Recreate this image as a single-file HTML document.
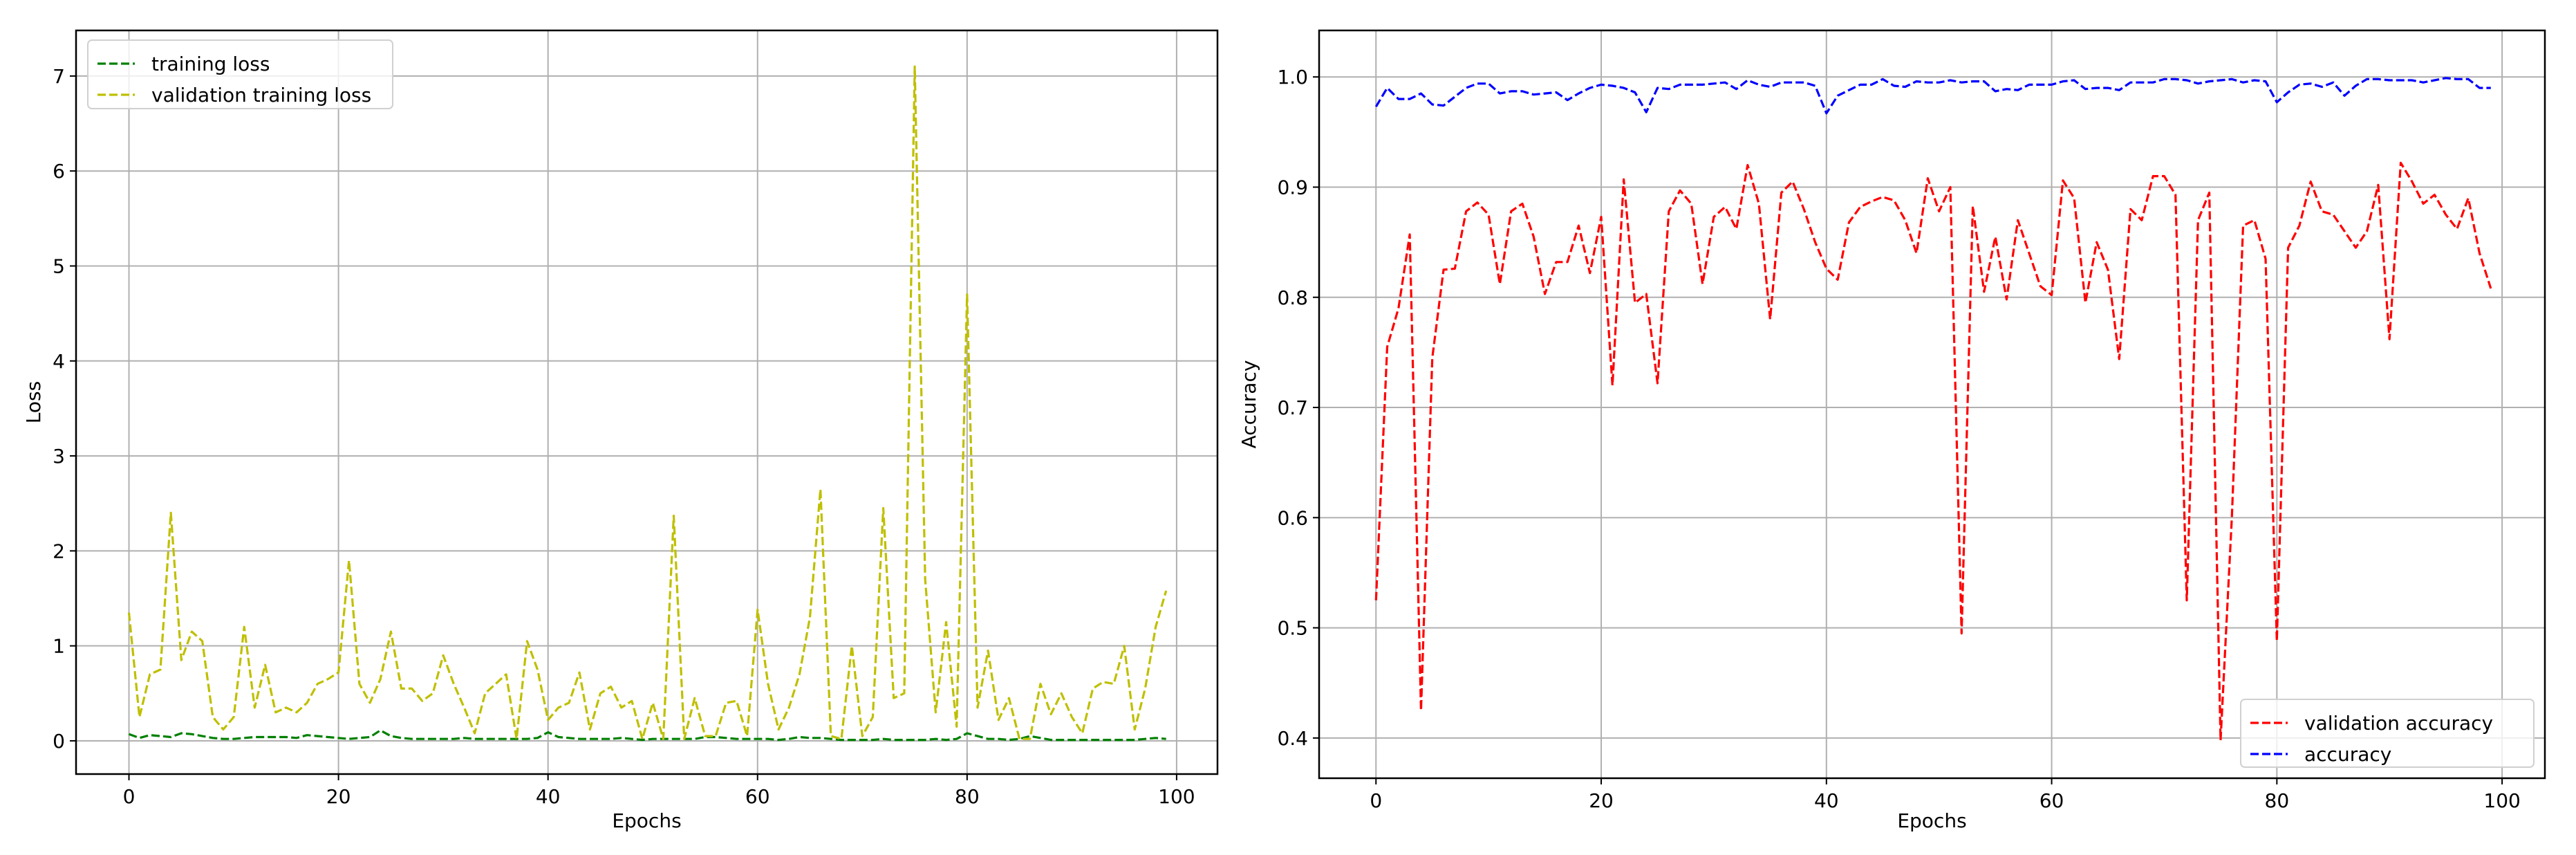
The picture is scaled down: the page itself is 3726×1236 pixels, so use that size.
<!DOCTYPE html>
<html><head><meta charset="utf-8"><style>
html,body{margin:0;padding:0;background:#fff}
svg{display:block}
text{font-family:"DejaVu Sans","Liberation Sans",sans-serif;fill:#000}
</style></head><body>
<svg id="fig" width="3726" height="1236" viewBox="0 0 3726 1236" xmlns="http://www.w3.org/2000/svg"></svg>
<script>
const epochs = Array.from({length:100},(_,i)=>i);
const trainLoss = [0.07,0.03,0.06,0.05,0.04,0.08,0.07,0.05,0.03,0.02,0.02,0.03,0.04,0.04,0.04,0.04,0.03,0.06,0.05,0.04,0.03,0.02,0.03,0.04,0.11,0.05,0.03,0.02,0.02,0.02,0.02,0.02,0.03,0.02,0.02,0.02,0.02,0.02,0.02,0.03,0.09,0.04,0.03,0.02,0.02,0.02,0.02,0.03,0.02,0.01,0.02,0.02,0.02,0.02,0.02,0.04,0.04,0.03,0.02,0.02,0.02,0.02,0.01,0.02,0.04,0.03,0.03,0.02,0.01,0.01,0.01,0.01,0.02,0.01,0.01,0.01,0.01,0.02,0.01,0.02,0.08,0.05,0.02,0.02,0.01,0.02,0.05,0.03,0.01,0.01,0.01,0.01,0.01,0.01,0.01,0.01,0.01,0.02,0.03,0.02];
const valLoss = [1.35,0.25,0.7,0.75,2.4,0.85,1.15,1.05,0.25,0.12,0.25,1.2,0.35,0.8,0.3,0.35,0.3,0.4,0.6,0.65,0.72,1.9,0.6,0.4,0.65,1.15,0.55,0.55,0.42,0.5,0.9,0.6,0.35,0.08,0.5,0.6,0.7,0.02,1.05,0.75,0.22,0.35,0.4,0.72,0.12,0.5,0.57,0.35,0.42,0.02,0.4,0.02,2.37,0.02,0.45,0.05,0.05,0.4,0.42,0.05,1.38,0.6,0.12,0.35,0.7,1.3,2.65,0.05,0.02,1.0,0.05,0.25,2.45,0.45,0.5,7.1,1.7,0.3,1.25,0.15,4.7,0.35,0.95,0.22,0.45,0.02,0.02,0.6,0.28,0.5,0.25,0.08,0.55,0.62,0.6,1.0,0.12,0.55,1.2,1.58];
const valAcc = [0.525,0.755,0.79,0.857,0.425,0.745,0.825,0.826,0.878,0.886,0.875,0.812,0.878,0.885,0.855,0.803,0.832,0.832,0.865,0.822,0.873,0.72,0.907,0.795,0.803,0.722,0.878,0.897,0.885,0.812,0.873,0.882,0.862,0.92,0.885,0.78,0.895,0.905,0.88,0.85,0.826,0.816,0.868,0.882,0.887,0.891,0.888,0.87,0.84,0.908,0.878,0.9,0.495,0.883,0.805,0.855,0.798,0.87,0.84,0.81,0.802,0.906,0.89,0.795,0.85,0.825,0.744,0.88,0.87,0.91,0.91,0.893,0.525,0.87,0.895,0.398,0.6,0.865,0.87,0.835,0.488,0.845,0.865,0.905,0.878,0.875,0.86,0.845,0.86,0.902,0.762,0.922,0.905,0.885,0.893,0.875,0.862,0.89,0.84,0.808];
const trainAcc = [0.973,0.99,0.98,0.98,0.985,0.975,0.974,0.982,0.99,0.994,0.994,0.985,0.987,0.987,0.984,0.985,0.986,0.979,0.985,0.99,0.993,0.992,0.99,0.986,0.968,0.99,0.989,0.993,0.993,0.993,0.994,0.995,0.989,0.997,0.993,0.991,0.995,0.995,0.995,0.992,0.967,0.983,0.988,0.993,0.993,0.998,0.992,0.991,0.996,0.995,0.995,0.997,0.995,0.996,0.996,0.987,0.989,0.988,0.993,0.993,0.993,0.996,0.997,0.989,0.99,0.99,0.988,0.995,0.995,0.995,0.998,0.998,0.997,0.994,0.996,0.997,0.998,0.995,0.997,0.996,0.977,0.986,0.993,0.994,0.991,0.995,0.983,0.992,0.998,0.998,0.997,0.997,0.997,0.995,0.997,0.999,0.998,0.998,0.99,0.99];
const xTicks = [0,20,40,60,80,100];
const lossTicks = [0,1,2,3,4,5,6,7];
const accTicks = [0.4,0.5,0.6,0.7,0.8,0.9,1.0];

const NS="http://www.w3.org/2000/svg";
const svg=document.getElementById('fig');
function mk(tag,attrs,parent){const e=document.createElementNS(NS,tag);for(const k in attrs)e.setAttribute(k,attrs[k]);(parent||svg).appendChild(e);return e;}

function panel(p){
  const g=mk('g',{});
  
  
  const sx=v=>p.x0+(v-p.xmin)/(p.xmax-p.xmin)*(p.x1-p.x0);
  const sy=v=>p.y1-(v-p.ymin)/(p.ymax-p.ymin)*(p.y1-p.y0);
  xTicks.forEach(t=>{
    const x=sx(t);
    const gl=mk('line',{x1:x,x2:x,y1:p.y0,y2:p.y1,stroke:'#b0b0b0','stroke-width':2},g);
    
    
    mk('line',{x1:x,x2:x,y1:p.y1,y2:p.y1+9,stroke:'#000','stroke-width':2},g);
    const tx=mk('text',{x:x,y:p.y1+42,'font-size':28,'text-anchor':'middle'},g);
    tx.textContent=t;
    
    
  });
  p.yticks.forEach(t=>{
    const y=sy(t);
    const gl=mk('line',{x1:p.x0,x2:p.x1,y1:y,y2:y,stroke:'#b0b0b0','stroke-width':2},g);
    
    
    mk('line',{x1:p.x0-9,x2:p.x0,y1:y,y2:y,stroke:'#000','stroke-width':2},g);
    const tx=mk('text',{x:p.x0-16,y:y+10,'font-size':28,'text-anchor':'end'},g);
    tx.textContent=p.fmt(t);
    
    
  });
  p.series.forEach(s=>{
    const pts=epochs.map((e,i)=>sx(e).toFixed(1)+','+sy(s.data[i]).toFixed(1)).join(' ');
    const pl=mk('polyline',{points:pts,fill:'none',stroke:s.color,'stroke-width':3.2,'stroke-dasharray':'12,5','stroke-linejoin':'round'},g);
    
    
  });
  const fr=mk('rect',{x:p.x0,y:p.y0,width:p.x1-p.x0,height:p.y1-p.y0,fill:'none',stroke:'#000','stroke-width':2.5},g);
  
  
  const xl=mk('text',{x:(p.x0+p.x1)/2,y:1196,'font-size':28,'text-anchor':'middle'},g);
  xl.textContent='Epochs';
  
  
  const yx=p.ylabelX, yy=(p.y0+p.y1)/2;
  const yl=mk('text',{x:yx,y:yy,'font-size':28,'text-anchor':'middle',transform:`rotate(-90 ${yx} ${yy})`},g);
  yl.textContent=p.ylabel;
  
  
  const L=p.legend;
  const lg=mk('g',{},g);
  
  
  mk('rect',{x:L.x,y:L.y,width:L.w,height:L.h,rx:6,fill:'#fff','fill-opacity':0.8,stroke:'#d0d0d0','stroke-width':2},lg);
  p.series.forEach((s,i)=>{
    const yy=L.y+34+i*45;
    mk('line',{x1:L.x+14,x2:L.x+68,y1:yy,y2:yy,stroke:s.color,'stroke-width':3.2,'stroke-dasharray':'12,5'},lg);
    const t=mk('text',{x:L.x+92,y:yy+10,'font-size':28},lg);
    t.textContent=s.label;
    
    
  });
}

panel({name:'loss-chart',x0:110,x1:1761,y0:44,y1:1119,xmin:-5.05,xmax:103.9,ymin:-0.35,ymax:7.48,
  yticks:lossTicks,fmt:t=>String(t),ylabel:'Loss',ylabelX:58,
  series:[{id:'training-loss-line',data:trainLoss,color:'#008000',label:'training loss'},
          {id:'validation-loss-line',data:valLoss,color:'#bfbf00',label:'validation training loss'}],
  legend:{x:127,y:58,w:441,h:99}});
panel({name:'accuracy-chart',x0:1908,x1:3681,y0:44,y1:1125,xmin:-5.05,xmax:103.8,ymin:0.3635,ymax:1.0422,
  yticks:accTicks,fmt:t=>t.toFixed(1),ylabel:'Accuracy',ylabelX:1816,
  series:[{id:'validation-accuracy-line',data:valAcc,color:'#ff0000',label:'validation accuracy'},
          {id:'accuracy-line',data:trainAcc,color:'#0000ff',label:'accuracy'}],
  legend:{x:3241,y:1011,w:424,h:98}});
</script>
</body></html>
